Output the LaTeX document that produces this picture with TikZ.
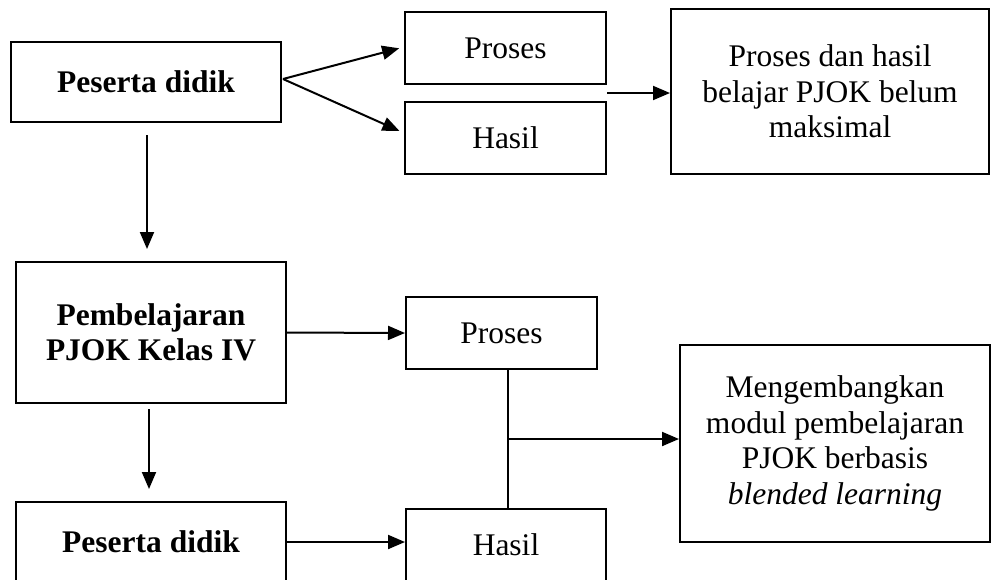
\documentclass[tikz,border=0pt]{standalone}
\usepackage{fontspec}
\setmainfont{Liberation Serif}
\usetikzlibrary{arrows.meta,calc}
\begin{document}
\begin{tikzpicture}[x=1pt,y=-1pt,
  box/.style={draw,line width=2pt,align=center,inner sep=0pt,
    font=\fontsize{31.5}{35.5}\selectfont},
  conn/.style={line width=2pt},
  arr/.style={conn,-{Triangle[length=17pt,width=14pt]}}]
\useasboundingbox (0,0) rectangle (992,579);
\clip (0,0) rectangle (992,579);

% upper row
\node[box,minimum width=270pt,minimum height=80pt] (b1) at (146,82) {\textbf{Peserta didik}};
\node[box,minimum width=201pt,minimum height=72pt] (pt) at (505.5,48) {Proses};
\node[box,minimum width=201pt,minimum height=72pt] (ht) at (505.5,138) {Hasil};
\node[box,minimum width=318pt,minimum height=165pt] (rt) at (830,91.5)
  {Proses dan hasil\\belajar PJOK belum\\maksimal};

% lower part
\node[box,minimum width=270pt,minimum height=141pt] (pemb) at (151,332.5)
  {\textbf{Pembelajaran}\\\textbf{PJOK Kelas IV}};
\node[box,minimum width=191pt,minimum height=72pt] (pb) at (501.5,333) {Proses};
\node[box,minimum width=270pt,minimum height=80pt] (b2) at (151,542) {\textbf{Peserta didik}};
\node[box,minimum width=200pt,minimum height=72pt] (hb) at (506,545) {Hasil};
\node[box,minimum width=310pt,minimum height=197pt] (rb) at (835,443.5)
  {Mengembangkan\\modul pembelajaran\\PJOK berbasis\\\textit{blended learning}};

% connectors, upper row
\coordinate (s1) at ($(b1.east)+(1,-3)$);
\draw[arr,shorten >=5pt] (s1) -- ($(pt.west)+(0,-1)$);
\draw[arr,shorten >=5pt] (s1) -- ($(ht.west)+(0,-5)$);
\coordinate (m1) at ($(pt.south east)!0.5!(ht.north east)$);
\draw[arr] (m1) -- (m1 -| rt.west);

% connectors, left column
\coordinate (v1) at ($(b1.south)+(1,0)$);
\draw[arr,shorten <=12pt,shorten >=12pt] (v1) -- (v1 |- pemb.north);
\coordinate (v2) at ($(pemb.south)+(-2,0)$);
\draw[arr,shorten <=5pt,shorten >=12pt] (v2) -- (v2 |- b2.north);

% connectors, lower part
\draw[arr] (pemb.east) -- (pb.west);
\draw[arr] (b2.east) -- (b2.east -| hb.west);
\coordinate (j) at (508,439);
\draw[conn] (j |- pb.south) -- (j |- hb.north);
\draw[arr] (j) -- (j -| rb.west);
\end{tikzpicture}
\end{document}
